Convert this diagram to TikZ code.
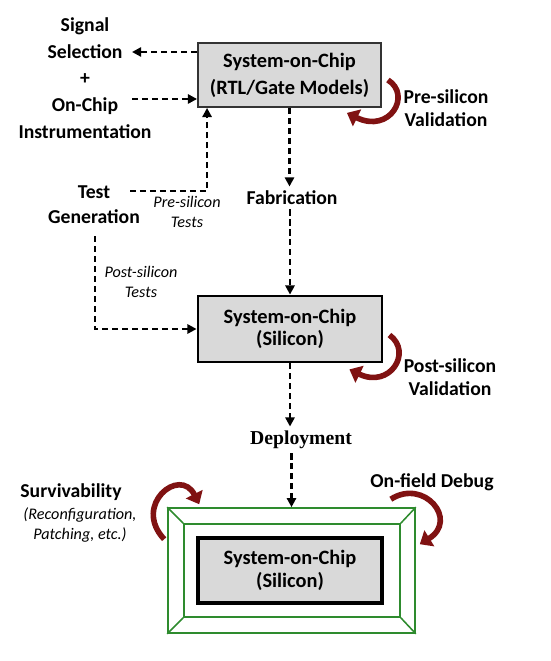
\documentclass[tikz,border=0pt]{standalone}
\usepackage{fontspec}
\setmainfont{Carlito}
\newfontfamily\serifbold{Liberation Serif}
\usetikzlibrary{arrows.meta, positioning}

\definecolor{boxgray}{RGB}{217,217,217}
\definecolor{loopred}{RGB}{128,18,18}
\definecolor{framegreen}{RGB}{46,139,46}

\begin{document}
\begin{tikzpicture}[x=0.025cm, y=-0.025cm,
    lbl/.style = {inner sep=0pt, align=center, font=\bfseries\fontsize{14}{19}\selectfont},
    note/.style = {inner sep=0pt, align=center, font=\itshape\fontsize{11.5}{14}\selectfont},
    soc/.style = {draw, fill=boxgray, align=center, minimum width=4.6cm,
                  font=\bfseries\fontsize{14.5}{16}\selectfont},
    dasharrow/.style = {dashed, dash pattern=on 4.3pt off 2.8pt, line width=2pt,
                        -{Triangle[length=6.5pt,width=6.5pt]}},
    loop/.style = {loopred, line width=4pt, -{Triangle[length=8pt,width=13pt]}},
    bevel/.style = {draw=framegreen, line width=1.1pt}]
    \useasboundingbox (0,0) rectangle (550,661);

    % chips
    \node[soc, draw=black!80, line width=1.3pt, minimum width=4.575cm, minimum height=1.6cm,
          font=\bfseries\fontsize{14.5}{19.2}\selectfont] (rtl) at (289.5,75)
          {System-on-Chip\\(RTL/Gate Models)};
    \node[soc, line width=2pt, minimum height=1.65cm] (silicon) at (290,329)
          {System-on-Chip\\(Silicon)};
    \node[bevel, minimum width=6.175cm, minimum height=3.125cm] (frameout) at (291.5,570.5) {};
    \node[bevel, minimum width=5.4cm, minimum height=2.325cm] (framein) at (292,570.5) {};
    \node[soc, line width=2.4pt, minimum height=1.625cm] (deployed) at (290,570.5)
          {System-on-Chip\\(Silicon)};
    \foreach \c in {north west, north east, south west, south east}
        \draw[bevel] (frameout.\c) -- (framein.\c);

    % labels
    \node[lbl] (instr) at (85,78) {Signal\\Selection\\+\\On-Chip\\Instrumentation};
    \node[lbl, font=\bfseries\fontsize{14}{17.8}\selectfont] (testgen) at (94,205) {Test\\Generation};
    \node[note] (pretests) at (187,212) {Pre-silicon\\Tests};
    \node[note] (posttests) at (141,282) {Post-silicon\\Tests};
    \node[lbl, inner sep=3pt] (fab) at (292,198) {Fabrication};
    \node[inner sep=3pt, font=\serifbold\bfseries\fontsize{14}{16}\selectfont] (deploy) at (301,440) {Deployment};
    \node[lbl, font=\bfseries\fontsize{14}{16.4}\selectfont] (prevalid) at (446,108) {Pre-silicon\\Validation};
    \node[lbl, font=\bfseries\fontsize{14}{16}\selectfont] (postvalid) at (450,377) {Post-silicon\\Validation};
    \node[lbl] (surv) at (71,492) {Survivability};
    \node[note] (survnote) at (80,525) {(Reconfiguration,\\Patching, etc.)};
    \node[lbl] (debug) at (432,482) {On-field Debug};

    \coordinate (selin) at (132,52);
    \coordinate (insout) at (132,99);
    \coordinate (tgout) at (130,191);

    % flow
    \draw[dasharrow] (rtl.west |- selin) -- (selin);
    \draw[dasharrow] (insout) -- (insout -| rtl.west);
    \draw[dasharrow] (tgout) -| ([shift={(10,0)}]rtl.south west);
    \draw[dasharrow] ([shift={(1,12)}]testgen.south) |- (silicon.west);
    \draw[dasharrow] (rtl.south) -- (rtl.south |- fab.north);
    \draw[dasharrow] (fab.south -| silicon.north) -- (silicon.north);
    \draw[dasharrow] (silicon.south) -- (silicon.south |- deploy.north);
    \draw[dasharrow] (deploy.south -| frameout.north) -- (frameout.north);

    % validation loops
    \draw[loop] ([shift={(6,5)}]rtl.east) .. controls (412,95) and (390,134) .. ([shift={(-35,5)}]rtl.south east);
    \draw[loop] ([shift={(6,6)}]silicon.east) .. controls (413,352) and (390,389) .. ([shift={(-34,6)}]silicon.south east);
    \draw[loop] ([shift={(-3,32)}]frameout.north west) .. controls (132,505) and (180,466) .. ([shift={(32,-3)}]frameout.north west);
    \draw[loop] ([shift={(-25,-8)}]frameout.north east) .. controls (424,478) and (459,520) .. ([shift={(4,37)}]frameout.north east);
\end{tikzpicture}
\end{document}
